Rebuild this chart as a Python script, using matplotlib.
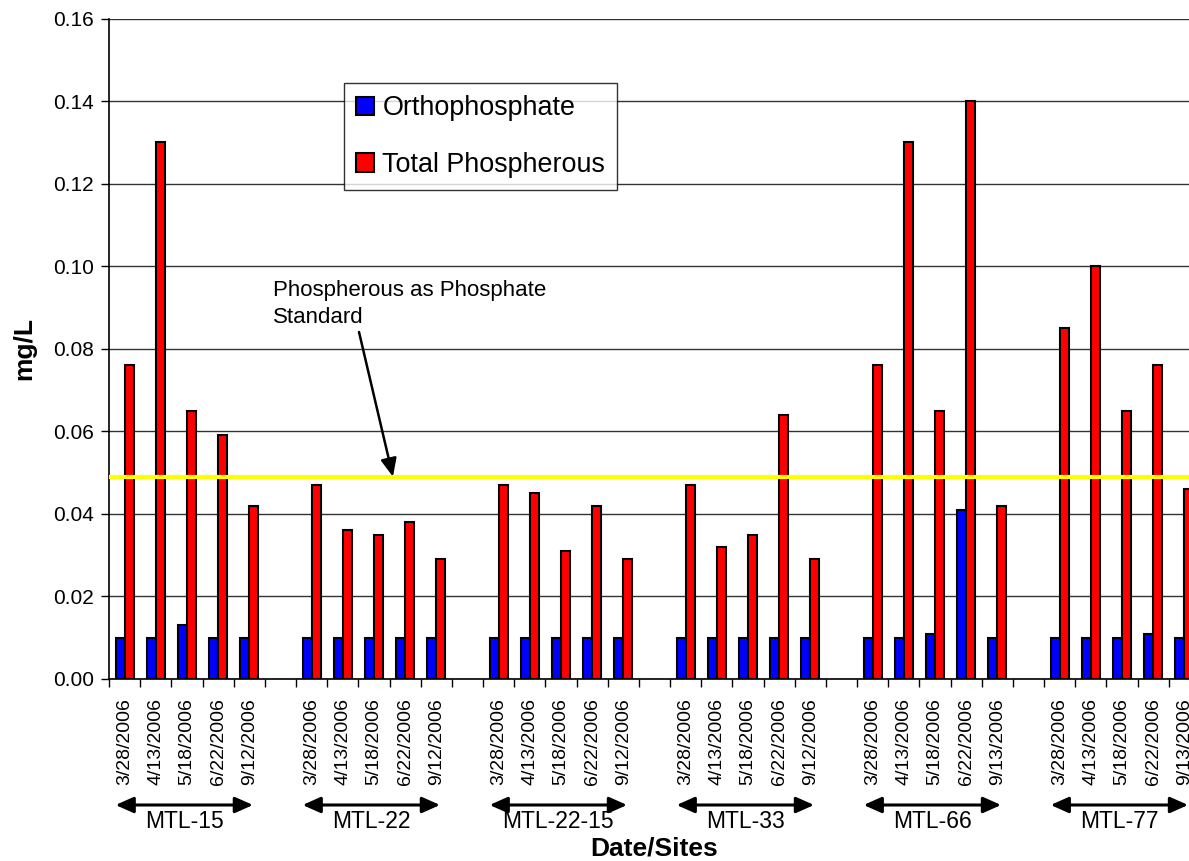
import numpy as np
import matplotlib
matplotlib.use("Agg")
import matplotlib.pyplot as plt

plt.rcParams['font.family'] = ['Liberation Sans', 'DejaVu Sans']

# sites and sampling dates
sites = ['MTL-15', 'MTL-22', 'MTL-22-15', 'MTL-33', 'MTL-66', 'MTL-77']
dates = {
    'MTL-15': ['3/28/2006', '4/13/2006', '5/18/2006', '6/22/2006', '9/12/2006'],
    'MTL-22': ['3/28/2006', '4/13/2006', '5/18/2006', '6/22/2006', '9/12/2006'],
    'MTL-22-15': ['3/28/2006', '4/13/2006', '5/18/2006', '6/22/2006', '9/12/2006'],
    'MTL-33': ['3/28/2006', '4/13/2006', '5/18/2006', '6/22/2006', '9/12/2006'],
    'MTL-66': ['3/28/2006', '4/13/2006', '5/18/2006', '6/22/2006', '9/13/2006'],
    'MTL-77': ['3/28/2006', '4/13/2006', '5/18/2006', '6/22/2006', '9/13/2006'],
}

# mg/L per site, in date order
ortho = {
    'MTL-15': [0.010, 0.010, 0.013, 0.010, 0.010],
    'MTL-22': [0.010, 0.010, 0.010, 0.010, 0.010],
    'MTL-22-15': [0.010, 0.010, 0.010, 0.010, 0.010],
    'MTL-33': [0.010, 0.010, 0.010, 0.010, 0.010],
    'MTL-66': [0.010, 0.010, 0.011, 0.041, 0.010],
    'MTL-77': [0.010, 0.010, 0.010, 0.011, 0.010],
}
total_p = {
    'MTL-15': [0.076, 0.130, 0.065, 0.059, 0.042],
    'MTL-22': [0.047, 0.036, 0.035, 0.038, 0.029],
    'MTL-22-15': [0.047, 0.045, 0.031, 0.042, 0.029],
    'MTL-33': [0.047, 0.032, 0.035, 0.064, 0.029],
    'MTL-66': [0.076, 0.130, 0.065, 0.140, 0.042],
    'MTL-77': [0.085, 0.100, 0.065, 0.076, 0.046],
}
standard = 0.049


def build_positions():
    '''
    lay the sites side by side with one empty slot between groups
    '''
    pos, labels, o_vals, t_vals, spans = [], [], [], [], []
    x = 0
    for site in sites:
        start = x
        for d, o, t in zip(dates[site], ortho[site], total_p[site]):
            pos.append(x)
            labels.append(d)
            o_vals.append(o)
            t_vals.append(t)
            x += 1
        spans.append((site, start, x - 1))
        x += 1  # gap between sites
    return np.array(pos), labels, o_vals, t_vals, spans, x - 1


pos, labels, o_vals, t_vals, spans, n_slots = build_positions()

fig = plt.figure(figsize=(11.89, 8.61), dpi=100)
ax = fig.add_axes([109 / 1189, 1 - 679 / 861, n_slots * 31.17 / 1189, (679 - 18.5) / 861])

w = 0.29
ax.bar(pos - w / 2, o_vals, width=w, color='#0000FF', edgecolor='black', linewidth=1.5,
       label='Orthophosphate', zorder=3)
ax.bar(pos + w / 2, t_vals, width=w, color='#FF0000', edgecolor='black', linewidth=1.5,
       label='Total Phospherous', zorder=3)

# standard line
ax.axhline(standard, color='#FFFF00', linewidth=3, zorder=4)

ax.set_xlim(-0.5, n_slots - 0.5)
ax.set_ylim(0, 0.16)
ax.set_yticks(np.arange(0, 0.161, 0.02))
ax.set_yticklabels(['%.2f' % v for v in np.arange(0, 0.161, 0.02)], fontsize=15)
ax.yaxis.grid(True, color='#333333', linewidth=1, zorder=0)
ax.tick_params(axis='y', direction='out', length=6, width=1, pad=5)

ax.set_xticks(pos)
ax.set_xticklabels(labels, rotation=90, fontsize=14)
ax.tick_params(axis='x', which='major', length=0, pad=14)
ax.set_xticks(np.arange(-0.5, n_slots, 1), minor=True)
ax.tick_params(axis='x', which='minor', direction='out', length=6, width=1)

for side in ['top', 'right']:
    ax.spines[side].set_visible(False)
ax.spines['left'].set_linewidth(1.2)
ax.spines['bottom'].set_linewidth(1.2)

fig.text(24 / 1189, 1 - 348 / 861, 'mg/L', fontsize=19, fontweight='bold',
         rotation=90, ha='center', va='center')
fig.text(654 / 1189, 1 - 848 / 861, 'Date/Sites', fontsize=19, fontweight='bold',
         ha='center', va='center')

# site brackets under the dates
for site, a, b in spans:
    left, right = a - 0.29, b + 0.12
    ax.annotate('', xy=(left, 1 - 805 / 861), xytext=(right, 1 - 805 / 861),
                xycoords=('data', 'figure fraction'), textcoords=('data', 'figure fraction'),
                arrowprops=dict(arrowstyle='<|-|>, head_length=0.45, head_width=0.2',
                                color='black', lw=2.2, mutation_scale=24,
                                shrinkA=0, shrinkB=0),
                annotation_clip=False)
    ax.annotate(site, xy=((left + right) / 2, 1 - 822 / 861),
                xycoords=('data', 'figure fraction'), ha='center', va='center',
                fontsize=16.5, annotation_clip=False)

# standard note with arrow
fig.text(273 / 1189, 1 - 304 / 861, 'Phospherous as Phosphate\nStandard',
         fontsize=16, ha='left', va='center', linespacing=1.35)
ax.annotate('', xy=(8.61, standard), xytext=(359 / 1189, 1 - 332 / 861),
            textcoords='figure fraction',
            arrowprops=dict(arrowstyle='-|>, head_length=0.5, head_width=0.22',
                            color='black', lw=1.8, mutation_scale=22,
                            shrinkA=0, shrinkB=0),
            zorder=5)

leg = ax.legend(loc='upper left', bbox_to_anchor=(344 / 1189, 1 - 83 / 861),
                bbox_transform=fig.transFigure, fontsize=19.4, frameon=True, fancybox=False,
                edgecolor='black', handlelength=0.67, handleheight=0.67, handletextpad=0.3,
                labelspacing=1.15, borderpad=0.45, borderaxespad=0)
leg.get_frame().set_linewidth(1)
for h in leg.legend_handles:
    h.set_linewidth(1.5)

fig.savefig('out.png', dpi=100)
